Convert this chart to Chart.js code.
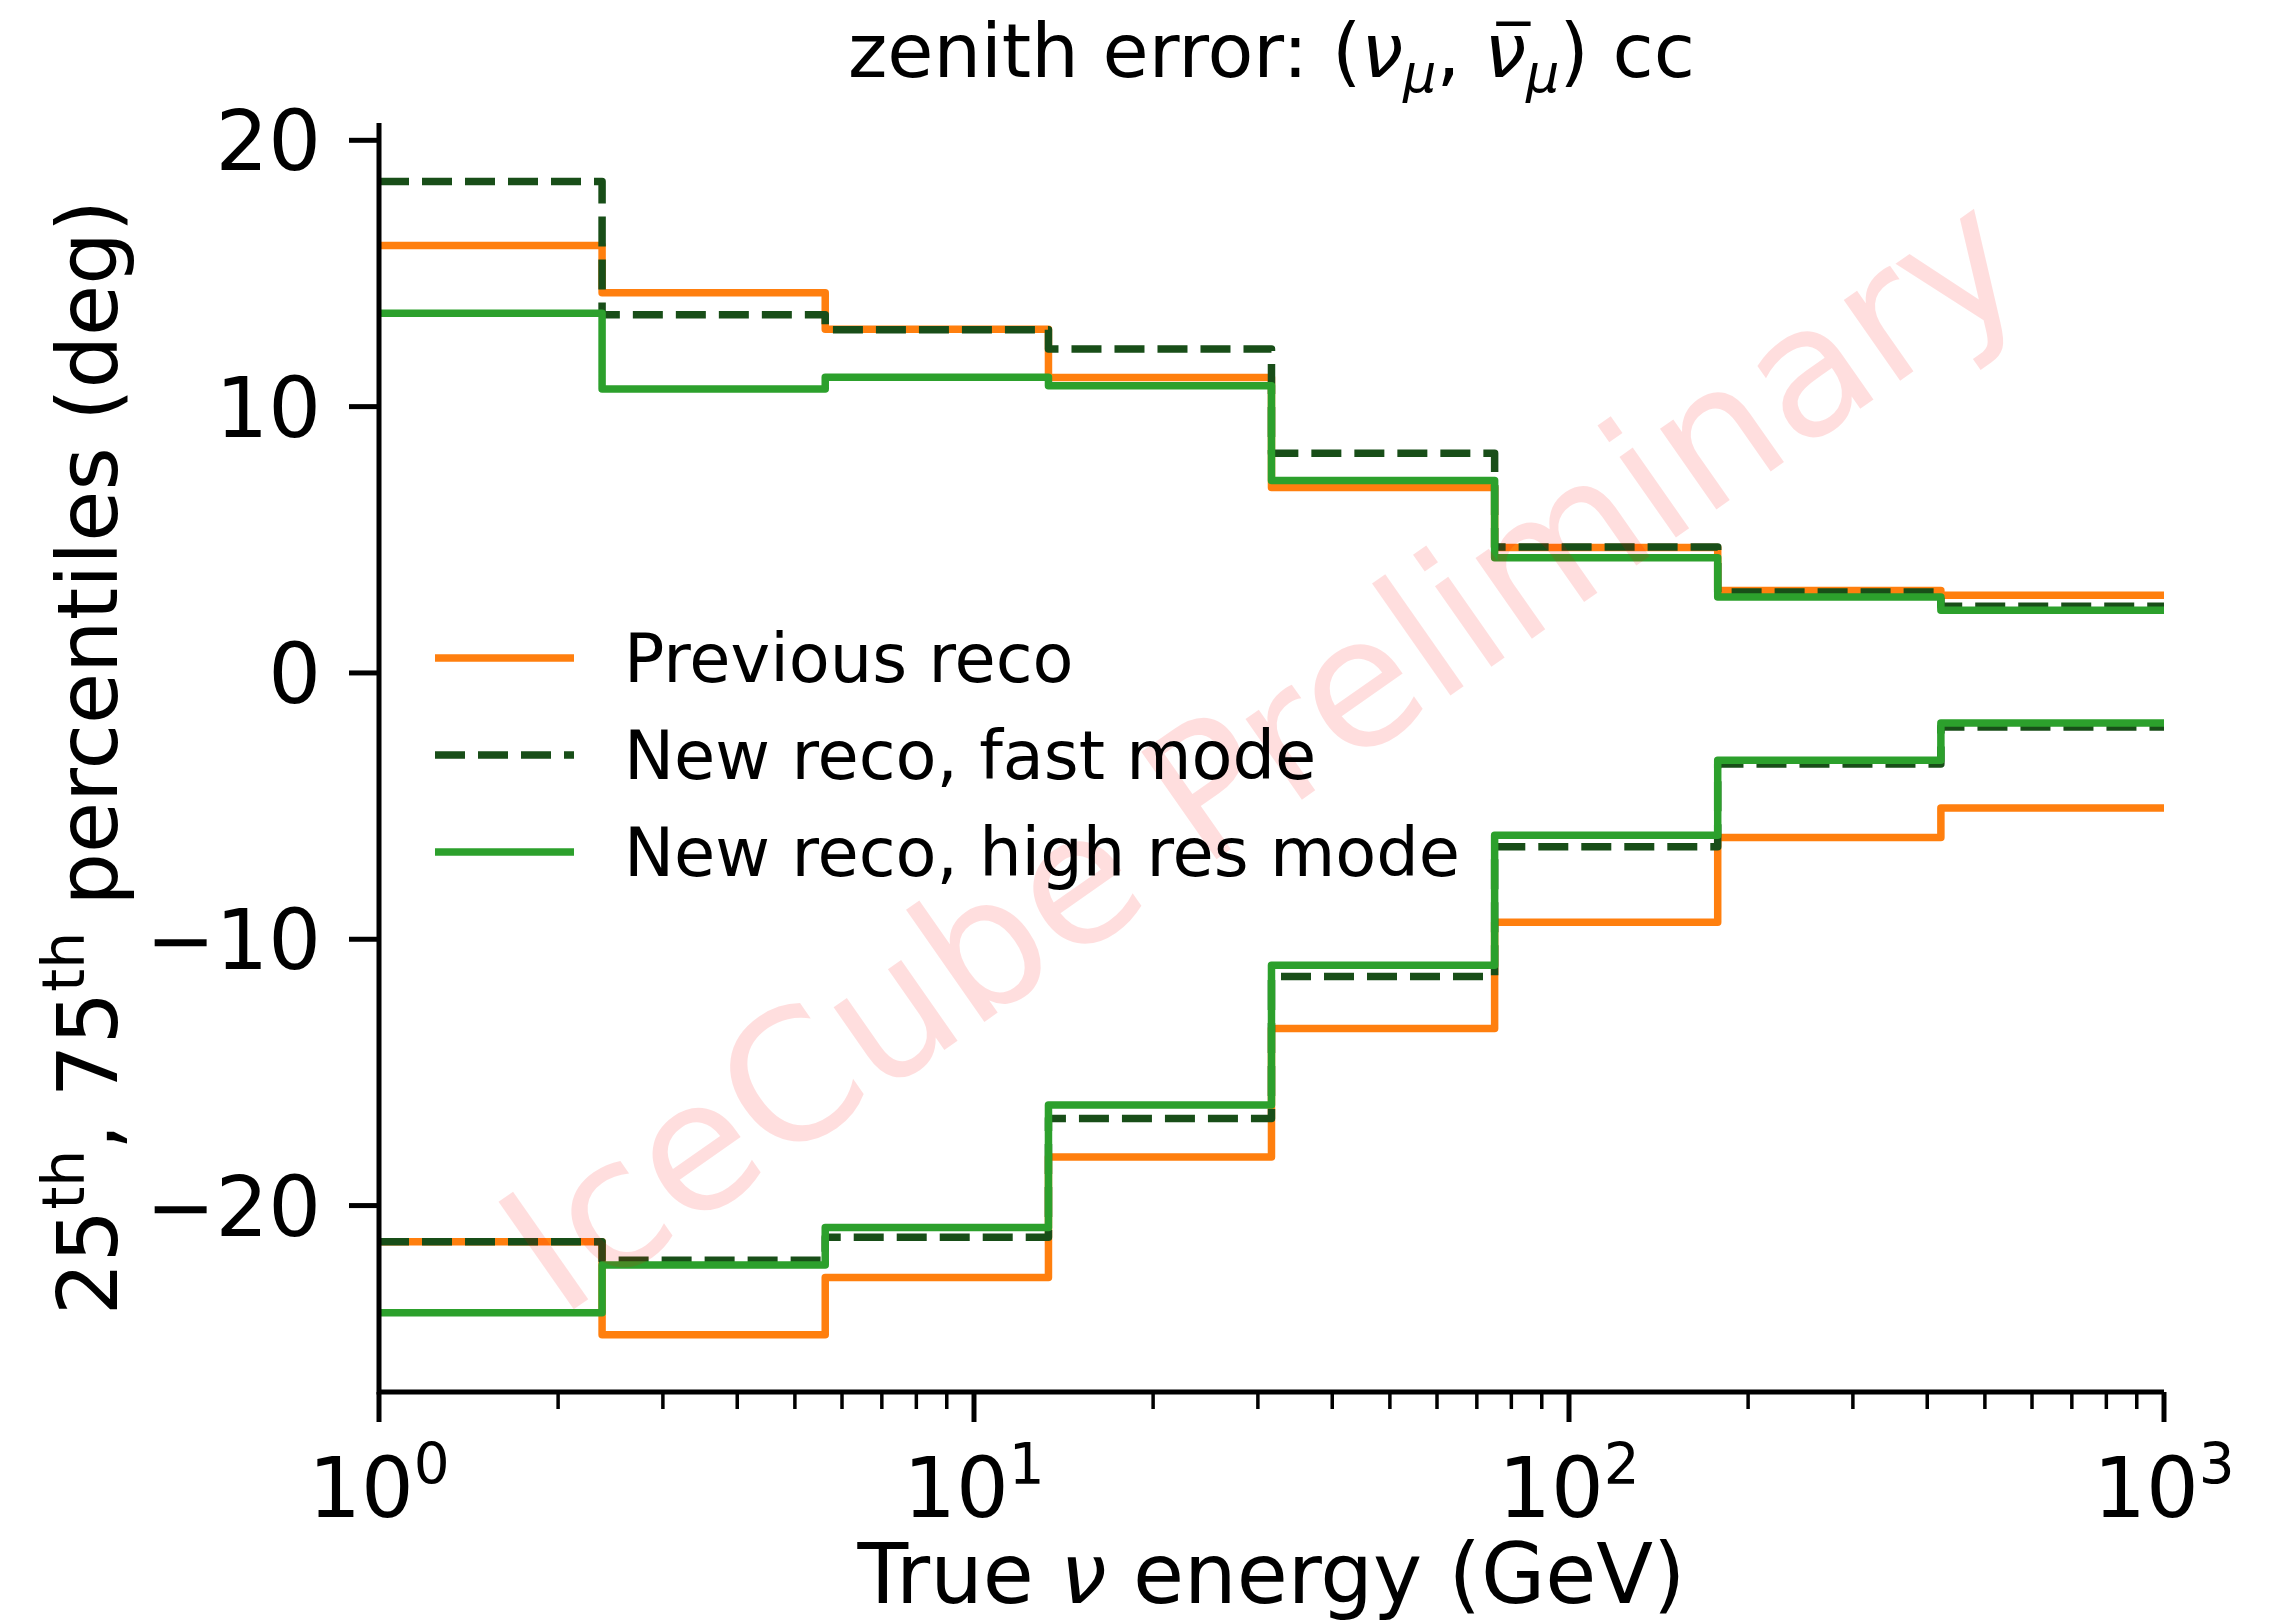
<!DOCTYPE html>
<html>
<head>
<meta charset="utf-8">
<title>zenith error percentiles</title>
<script src="https://cdn.jsdelivr.net/npm/chart.js@4.4.1/dist/chart.umd.min.js"></script>
<style>
  html, body { margin: 0; padding: 0; background: #ffffff; }
  #wrap { width: 2290px; height: 1622px; }
</style>
</head>
<body>
<div id="wrap"><canvas id="c" width="2290" height="1622"></canvas></div>
<script>
// Energy bin edges (GeV), log-spaced from 1 to 1000
const binEdges = [1, 2.371, 5.623, 13.34, 31.62, 74.99, 177.8, 421.7, 1000];

// 75th percentile of zenith error per bin (deg)
const prevHi  = [16.05, 14.28, 12.91, 11.09, 6.96, 4.71, 3.10, 2.92];
const fastHi  = [18.45, 13.45, 12.89, 12.16, 8.25, 4.73, 3.04, 2.50];
const hiresHi = [13.51, 10.66, 11.10, 10.78, 7.23, 4.33, 2.85, 2.35];

// 25th percentile of zenith error per bin (deg)
const prevLo  = [-21.36, -24.85, -22.70, -18.18, -13.35, -9.36, -6.18, -5.07];
const fastLo  = [-21.36, -22.05, -21.19, -16.73, -11.40, -6.53, -3.42, -2.03];
const hiresLo = [-24.02, -22.23, -20.82, -16.22, -10.98, -6.09, -3.28, -1.88];

const seriesNames = ['Previous reco', 'New reco, fast mode', 'New reco, high res mode'];

// Axis ticks
const yTickValues = [-20, -10, 0, 10, 20];
const yTickLabels = ['\u221220', '\u221210', '0', '10', '20'];
const xMajorTicks = [1, 10, 100, 1000];
const xMajorExponents = ['0', '1', '2', '3'];
const xMinorTicks = [2, 3, 4, 5, 6, 7, 8, 9, 20, 30, 40, 50, 60, 70, 80, 90, 200, 300, 400, 500, 600, 700, 800, 900];

const FONT = "'DejaVu Sans', 'Liberation Sans', sans-serif";

// Step outline: one point per left bin edge, last value repeated at the final edge
function stepPoints(vals) {
  return binEdges.map((e, i) => ({ x: e, y: vals[Math.min(i, vals.length - 1)] }));
}

const styles = [
  { color: '#ff7f0e', dash: [], order: 2 },
  { color: '#184e18', dash: [30, 13], order: 1 },
  { color: '#2ca02c', dash: [], order: 0 }
];

function makeSet(label, vals, s, legendRow) {
  return {
    label: label,
    data: stepPoints(vals),
    borderColor: s.color,
    backgroundColor: s.color,
    borderWidth: 7.5,
    borderDash: s.dash,
    borderJoinStyle: 'round',
    borderCapStyle: 'butt',
    stepped: true,
    pointRadius: 0,
    fill: false,
    order: s.order,
    legendRow: legendRow
  };
}

const datasets = [
  makeSet(seriesNames[0], prevHi, styles[0], 0),
  makeSet(seriesNames[0], prevLo, styles[0], -1),
  makeSet(seriesNames[1], fastHi, styles[1], 1),
  makeSet(seriesNames[1], fastLo, styles[1], -1),
  makeSet(seriesNames[2], hiresHi, styles[2], 2),
  makeSet(seriesNames[2], hiresLo, styles[2], -1)
];

// Draws a line of text made of runs (normal / italic / raised / lowered / barred)
function drawRich(ctx, segs, base, x, y, align, angle) {
  ctx.save();
  ctx.translate(x, y);
  ctx.rotate(angle || 0);
  let w = 0;
  const runs = segs.map(s => {
    const size = base * (s.scale || 1);
    const font = (s.italic ? 'italic ' : '') + size + 'px ' + FONT;
    ctx.font = font;
    const width = ctx.measureText(s.text).width;
    const r = Object.assign({}, s, { font, size, width, x: w });
    w += width;
    return r;
  });
  const x0 = align === 'center' ? -w / 2 : (align === 'right' ? -w : 0);
  ctx.fillStyle = '#000';
  ctx.textAlign = 'left';
  ctx.textBaseline = 'alphabetic';
  for (const r of runs) {
    ctx.font = r.font;
    const by = -(r.rise || 0) * base;
    ctx.fillText(r.text, x0 + r.x, by);
    if (r.bar) {
      const th = 0.06 * r.size;
      ctx.fillRect(x0 + r.x + 0.16 * r.size, by - 0.74 * r.size, r.width - 0.1 * r.size, th);
    }
  }
  ctx.restore();
}

const decorPlugin = {
  id: 'decor',
  afterDatasetsDraw(chart) {
    const ctx = chart.ctx;
    // watermark
    ctx.save();
    ctx.translate(1297, 803);
    ctx.rotate(-35 * Math.PI / 180);
    ctx.font = '180px ' + FONT;
    ctx.fillStyle = 'rgba(255, 0, 0, 0.13)';
    ctx.textAlign = 'center';
    ctx.textBaseline = 'alphabetic';
    ctx.fillText('IceCube Preliminary', 0, 0);
    ctx.restore();
  },
  afterDraw(chart) {
    const ctx = chart.ctx;
    const xs = chart.scales.x, ys = chart.scales.y;
    const area = chart.chartArea;
    ctx.save();
    ctx.strokeStyle = '#000';
    ctx.lineCap = 'butt';

    // spines
    ctx.lineWidth = 5;
    ctx.beginPath();
    ctx.moveTo(area.left, area.top);
    ctx.lineTo(area.left, area.bottom + 2.5);
    ctx.moveTo(area.left - 2.5, area.bottom);
    ctx.lineTo(area.right, area.bottom);
    ctx.stroke();

    // y ticks and labels
    yTickValues.forEach((v, i) => {
      const py = ys.getPixelForValue(v);
      ctx.lineWidth = 5;
      ctx.beginPath();
      ctx.moveTo(area.left - 30, py);
      ctx.lineTo(area.left, py);
      ctx.stroke();
      drawRich(ctx, [{ text: yTickLabels[i] }], 83, 321, py + 30, 'right', 0);
    });

    // x minor ticks
    ctx.lineWidth = 3.5;
    xMinorTicks.forEach(v => {
      const px = xs.getPixelForValue(v);
      ctx.beginPath();
      ctx.moveTo(px, area.bottom);
      ctx.lineTo(px, area.bottom + 17);
      ctx.stroke();
    });
    // x major ticks and labels
    xMajorTicks.forEach((v, i) => {
      const px = xs.getPixelForValue(v);
      ctx.lineWidth = 5;
      ctx.beginPath();
      ctx.moveTo(px, area.bottom);
      ctx.lineTo(px, area.bottom + 30);
      ctx.stroke();
      drawRich(ctx, [{ text: '10' }, { text: xMajorExponents[i], scale: 0.68, rise: 0.4 }], 83, px, 1517, 'center', 0);
    });

    // axis titles
    const cx = (area.left + area.right) / 2;
    const cy = (area.top + area.bottom) / 2;
    drawRich(ctx, [{ text: 'True ' }, { text: '\u03bd', italic: true }, { text: ' energy (GeV)' }], 83, cx, 1603, 'center', 0);
    drawRich(ctx, [
      { text: '25' }, { text: 'th', scale: 0.7, rise: 0.4 },
      { text: ', 75' }, { text: 'th', scale: 0.7, rise: 0.4 },
      { text: ' percentiles (deg)' }
    ], 83, 117, cy, 'center', -Math.PI / 2);

    // title
    drawRich(ctx, [
      { text: 'zenith error: (' },
      { text: '\u03bd', italic: true },
      { text: '\u03bc', italic: true, scale: 0.7, rise: -0.2 },
      { text: ', ' },
      { text: '\u03bd', italic: true, bar: true },
      { text: '\u03bc', italic: true, scale: 0.7, rise: -0.2 },
      { text: ') cc' }
    ], 75, cx, 77, 'center', 0);

    // legend
    const rowY = [658, 755, 852];
    chart.data.datasets.forEach(ds => {
      if (ds.legendRow < 0) return;
      const y = rowY[ds.legendRow];
      ctx.save();
      ctx.strokeStyle = ds.borderColor;
      ctx.lineWidth = ds.borderWidth;
      ctx.setLineDash(ds.borderDash);
      ctx.beginPath();
      ctx.moveTo(435, y);
      ctx.lineTo(574, y);
      ctx.stroke();
      ctx.restore();
      drawRich(ctx, [{ text: ds.label }], 67, 624, y + 24, 'left', 0);
    });
    ctx.restore();
  }
};

new Chart(document.getElementById('c'), {
  type: 'line',
  data: { datasets: datasets },
  options: {
    responsive: false,
    devicePixelRatio: 1,
    animation: false,
    events: [],
    layout: { padding: { left: 379, right: 126, top: 123, bottom: 230 } },
    plugins: { legend: { display: false }, title: { display: false }, tooltip: { enabled: false } },
    scales: {
      x: { type: 'logarithmic', min: 1, max: 1000, display: false },
      y: { type: 'linear', min: -27.0, max: 20.65, display: false }
    }
  },
  plugins: [decorPlugin]
});
</script>
</body>
</html>
